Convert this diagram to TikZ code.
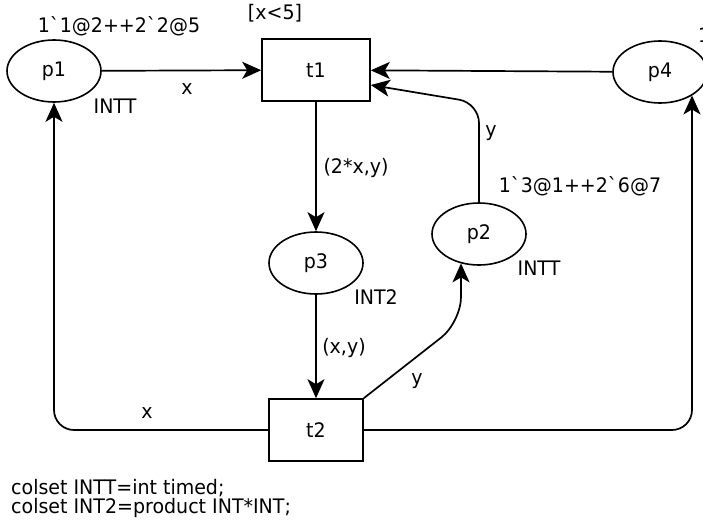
\documentclass[tikz,border=0pt]{standalone}
\usepackage{fontspec}
\setmainfont[FakeStretch=0.95]{DejaVu Sans}
\usetikzlibrary{arrows.meta,shapes.geometric,calc}
\tikzset{
  place/.style={draw, ellipse, minimum width=94pt, minimum height=62pt, inner sep=0pt, line width=1.6pt},
  trans/.style={draw, rectangle, minimum width=#1, minimum height=62pt, inner sep=0pt, line width=1.6pt},
  arc/.style={line width=1.7pt, -{Stealth[length=19pt, width=17pt, inset=5pt]}},
  lbl/.style={anchor=base, inner sep=0pt},
}
\begin{document}
\begin{tikzpicture}[x={(1pt,0)}, y={(0,-1pt)}, font=\fontsize{20}{16.5}\selectfont]
\useasboundingbox (0,0) rectangle (703,527);
\clip (0,0) rectangle (703,527);
% places
\node[place] (p1) at (54,71) {p1};
\node[place] (p4) at (660,72) {p4};
\node[place] (p2) at (479,234) {p2};
\node[place] (p3) at (316,263) {p3};
% transitions
\node[trans=108pt] (t1) at (316,70) {t1};
\node[trans=94pt] (t2) at (316,430) {t2};
% helper coordinates
\coordinate (cl) at (54,430);
\coordinate (cr) at (692,430);
\coordinate (c2a) at (461,322);
\coordinate (c2b) at (479,103);
% arcs
\draw[arc] (p1) -- (t1);
\draw[arc] (p4) -- (t1);
\draw[arc] (t1) -- (p3);
\draw[arc] (p3.south) -- (p3.south |- t2.north);
\draw[arc, rounded corners=20pt] (t2.west) -- (cl) -- (p1.south);
\draw[arc, rounded corners=20pt] (t2.east) -- (cr) -- (cr |- p4.-36);
\draw[arc, rounded corners=25pt] (t2.north east) -- (c2a) -- (c2a |- p2.-122);
\draw[arc, rounded corners=20pt] (p2.north) -- (c2b) -- ($(t1.east)+(0,15)$);
% labels
\node[lbl] (m1) at (119,33) {1\textasciigrave 1@2++2\textasciigrave 2@5};
\node[lbl] (g1) at (275,20) {[x<5]};
\node[lbl] (c1) at (115,113) {INTT};
\node[lbl] (a1) at (187,94) {x};
\node[lbl] (a2) at (356,173) {(2*x,y)};
\node[lbl] (a3) at (491,136) {y};
\node[lbl] (m2) at (580,192) {1\textasciigrave 3@1++2\textasciigrave 6@7};
\node[lbl] (c2) at (539,275) {INTT};
\node[lbl] (c3) at (376,304) {INT2};
\node[lbl] (a4) at (344,353) {(x,y)};
\node[lbl] (a5) at (417,384) {y};
\node[lbl] (a6) at (147,418) {x};
\node[lbl, anchor=base west] (m4) at (698,42) {1};
\node[anchor=base west, inner sep=0pt, align=left] (decl) at (11,513) {colset INTT=int timed;\\colset INT2=product INT*INT;};
\end{tikzpicture}
\end{document}
